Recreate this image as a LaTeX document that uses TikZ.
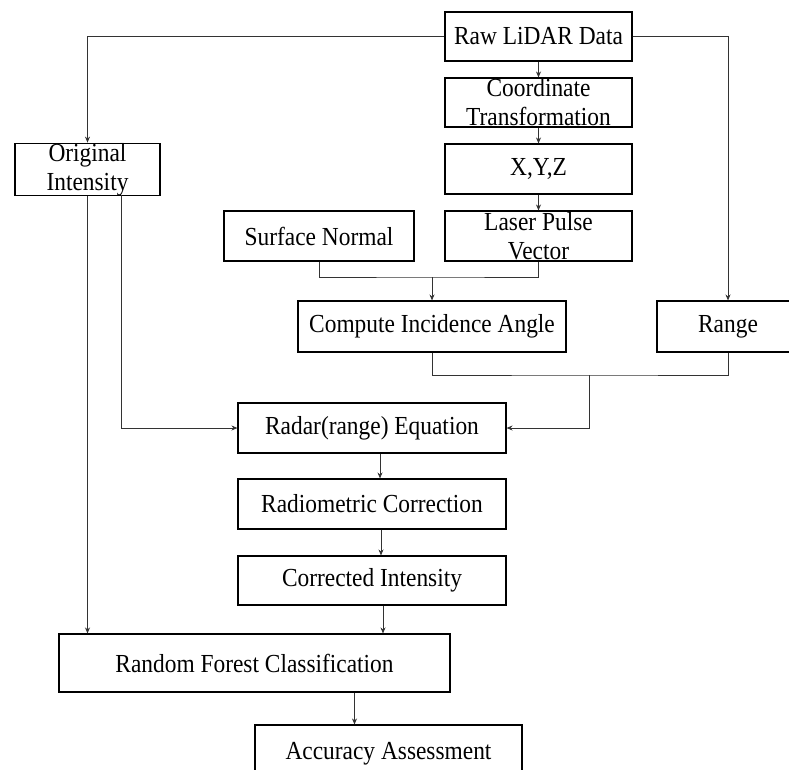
\documentclass[tikz,border=0pt]{standalone}
\usepackage{fontspec}
\setmainfont{Liberation Serif}[FakeStretch=0.9]
\usetikzlibrary{arrows.meta, positioning}

\begin{document}
\begin{tikzpicture}[x=1pt, y=-1pt,
        box/.style={draw, line width=1.1pt, inner sep=0pt, align=center,
            font=\fontsize{26}{29}\selectfont},
        link/.style={draw=black!80, line width=0.8pt},
        arr/.style={link, -{Stealth[length=6pt,width=5pt]}}]
        \useasboundingbox (0,0) rectangle (789,769);
        \clip (0,0) rectangle (789,769);

        % Boxes of the upper part
        \node[box, minimum width=187pt, minimum height=49pt] (raw) at (538.5,36.5) {Raw LiDAR Data};
        \node[box, minimum width=187pt, minimum height=49pt] (coord) at (538.5,102.5) {Coordinate\\Transformation};
        \node[box, minimum width=187pt, minimum height=50pt] (xyz) at (538.5,169) {X,Y,Z};
        \node[box, minimum width=187pt, minimum height=50pt] (laser) at (538.5,236) {Laser Pulse\\Vector};
        \node[box, minimum width=190pt, minimum height=50pt] (surf) at (319,236) {Surface Normal};
        \node[box, minimum width=145pt, minimum height=51pt] (orig) at (87.5,169.5) {Original\\Intensity};
        \node[box, minimum width=268pt, minimum height=51pt] (incid) at (432,326.5) {Compute Incidence Angle};
        \node[box, minimum width=142pt, minimum height=51pt] (range) at (728,326.5) {Range};

        % Boxes of the lower part
        \node[box, minimum width=268pt, minimum height=50pt] (radar) at (372,428) {Radar(range) Equation};
        \node[box, minimum width=268pt, minimum height=50pt] (radio) at (372,504) {Radiometric Correction};
        \node[box, minimum width=268pt, minimum height=49pt] (corr) at (372,580.5) {Corrected Intensity};
        \node[box, minimum width=391pt, minimum height=58pt] (rf) at (254.5,663) {Random Forest Classification};
        \node[box, minimum width=267pt, minimum height=58pt] (acc) at (388.5,754) {Accuracy Assessment};

        % Junctions
        \coordinate (jn1) at (432,277);
        \coordinate (jn2) at (589,375);
        \coordinate (oi2) at (121,195);

        % Connectors
        \draw[arr] (raw) -- (coord);
        \draw[arr] (coord) -- (xyz);
        \draw[arr] (xyz) -- (laser);
        \draw[arr] (raw.west) -| (orig.north);
        \draw[arr] (raw.east) -| (range.north);
        \draw[link] (surf.south) |- (jn1) -| (laser.south);
        \draw[arr] (jn1) -- (incid.north);
        \draw[link] (incid.south) |- (jn2) -| (range.south);
        \draw[arr] (jn2) |- (radar.east);
        \draw[arr] (oi2) |- (radar.west);
        \draw[arr] (orig.south) -- (orig.south |- rf.north);
        \draw[arr] ([xshift=8pt]radar.south) -- ([xshift=8pt]radio.north);
        \draw[arr] ([xshift=9pt]radio.south) -- ([xshift=9pt]corr.north);
        \draw[arr] ([xshift=11pt]corr.south) -- ([xshift=11pt]corr.south |- rf.north);
        \draw[arr] ([xshift=100pt]rf.south) -- ([xshift=100pt]rf.south |- acc.north);
    \end{tikzpicture}
\end{document}
